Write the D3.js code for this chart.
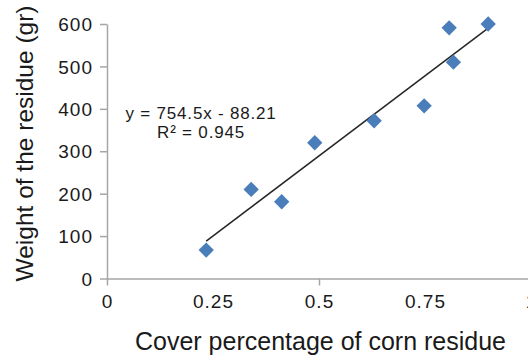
<!DOCTYPE html>
<html>
<head>
<meta charset="utf-8">
<script src="https://cdn.jsdelivr.net/npm/d3@7"></script>
<style>
  html, body { margin: 0; padding: 0; background: #fff; }
  svg { display: block; font-family: "Liberation Sans", Arial, sans-serif; }
</style>
</head>
<body>
<svg id="chart" width="528" height="358"></svg>
<script>
// Cover fraction of corn residue vs. residue weight (g)
const coverValues  = [0.234, 0.340, 0.412, 0.490, 0.630, 0.748, 0.807, 0.817, 0.899];
const weightValues = [67, 210, 181, 320, 372, 407, 591, 510, 600];

// Linear fit shown on the chart
const slope = 754.5;
const intercept = -88.21;
const rSquared = 0.945;

const xTickValues = [0, 0.25, 0.5, 0.75, 1];
const xTickLabels = ["0", "0.25", "0.5", "0.75", "1"];
const xMajorMarks = [0, 0.5, 1];
const yTickValues = [0, 100, 200, 300, 400, 500, 600];

const xTitle = "Cover percentage of corn residue";
const yTitle = "Weight of the residue (gr)";

const svg = d3.select("#chart");
const axisColor = "#a6a6a6";
const textColor = "#1a1a1a";

const x = d3.scaleLinear().domain([0, 1]).range([107, 531]);
const y = d3.scaleLinear().domain([0, 600]).range([278.5, 24]);

// Y axis
const yAxis = svg.append("g")
  .attr("transform", `translate(${x(0)},0)`)
  .call(d3.axisLeft(y).tickValues(yTickValues).tickSize(7).tickSizeOuter(0).tickPadding(7));
yAxis.selectAll("path, line").attr("stroke", axisColor).attr("stroke-width", 1.5);
yAxis.selectAll("text")
  .attr("fill", textColor)
  .style("font-size", "19px")
  .style("letter-spacing", "1px")
  .attr("dy", "0.35em");

// X axis line with marks at major steps
const xAxis = svg.append("g")
  .attr("transform", `translate(0,${y(0)})`)
  .call(d3.axisBottom(x).tickValues(xMajorMarks).tickSize(7).tickSizeOuter(0).tickFormat(""));
xAxis.selectAll("path, line").attr("stroke", axisColor).attr("stroke-width", 1.5);

// X tick labels every 0.25
const xLabels = svg.append("g")
  .attr("transform", `translate(0,${y(0)})`)
  .call(d3.axisBottom(x).tickValues(xTickValues).tickSize(0).tickPadding(16)
    .tickFormat((d, i) => xTickLabels[i]));
xLabels.select(".domain").remove();
xLabels.selectAll("text")
  .attr("fill", textColor)
  .style("font-size", "19px")
  .style("letter-spacing", "1px");

// Trend line across the observed range
const xMin = d3.min(coverValues), xMax = d3.max(coverValues);
svg.append("line")
  .attr("x1", x(xMin)).attr("y1", y(slope * xMin + intercept))
  .attr("x2", x(xMax)).attr("y2", y(slope * xMax + intercept))
  .attr("stroke", "#262626")
  .attr("stroke-width", 1.5);

// Diamond markers
const diamond = d3.symbol().type(d3.symbolDiamond2).size(150);
svg.append("g").selectAll("path")
  .data(coverValues.map((c, i) => [c, weightValues[i]]))
  .join("path")
  .attr("d", diamond)
  .attr("transform", d => `translate(${x(d[0])},${y(d[1])})`)
  .attr("fill", "#4a7ebb");

// Regression label
const eq = svg.append("g").attr("fill", textColor)
  .style("font-size", "17px").style("letter-spacing", "0.8px")
  .attr("text-anchor", "middle");
eq.append("text").attr("x", 201).attr("y", 119)
  .text(`y = ${slope}x - ${Math.abs(intercept)}`);
eq.append("text").attr("x", 201).attr("y", 138)
  .text(`R² = ${rSquared}`);

// Axis titles
svg.append("text")
  .attr("x", 320.5).attr("y", 350)
  .attr("text-anchor", "middle")
  .attr("fill", textColor)
  .style("font-size", "25px")
  .text(xTitle);

svg.append("text")
  .attr("transform", "translate(33,143.5) rotate(-90)")
  .attr("text-anchor", "middle")
  .attr("fill", textColor)
  .style("font-size", "24.5px")
  .text(yTitle);
</script>
</body>
</html>
